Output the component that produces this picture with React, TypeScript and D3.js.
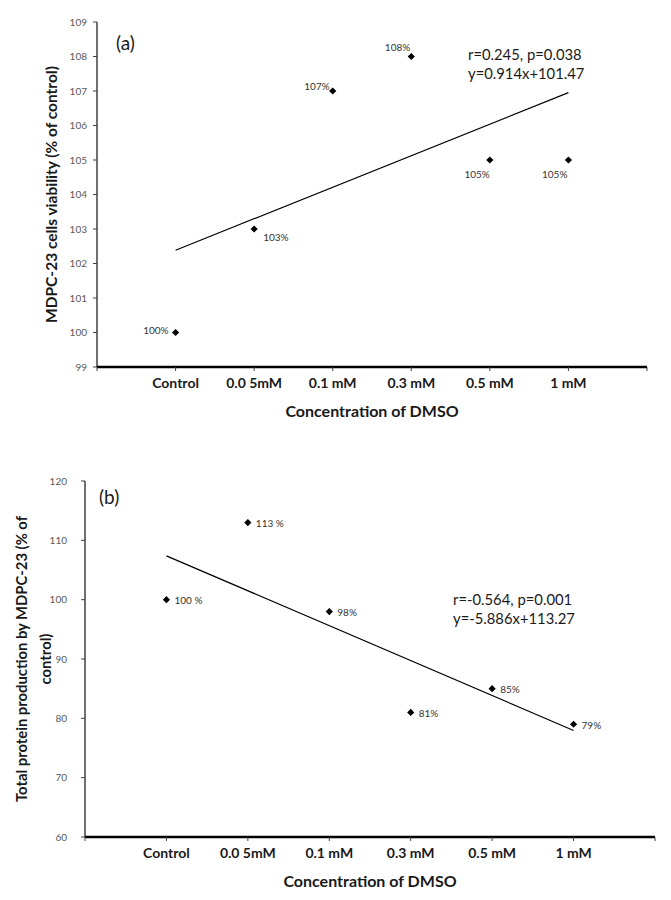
import React from 'react';
import * as d3 from 'd3';

// Data
const categories = ['Control', '0.0 5mM', '0.1 mM', '0.3 mM', '0.5 mM', '1 mM'];
const categoryX = [1, 2, 3, 4, 5, 6];

const viability = [100, 103, 107, 108, 105, 105];
const viabilityLabels = ['100%', '103%', '107%', '108%', '105%', '105%'];
const viabilityTicks = [99, 100, 101, 102, 103, 104, 105, 106, 107, 108, 109];
const viabilityFit = [0.914, 101.47]; // slope, intercept
const viabilityStats = ['r=0.245, p=0.038', 'y=0.914x+101.47'];

const protein = [100, 113, 98, 81, 85, 79];
const proteinLabels = ['100 %', '113 %', '98%', '81%', '85%', '79%'];
const proteinTicks = [60, 70, 80, 90, 100, 110, 120];
const proteinFit = [-5.886, 113.27];
const proteinStats = ['r=-0.564, p=0.001', 'y=-5.886x+113.27'];

const FONT = 'Lato, "Open Sans", sans-serif';

interface LabelPos {
  dx: number;
  dy: number;
  anchor: 'start' | 'end' | 'middle';
}

interface PanelProps {
  tag: string;
  tagPos: [number, number];
  values: number[];
  labels: string[];
  labelPos: LabelPos[];
  ticks: number[];
  fit: number[];
  stats: string[];
  statsPos: [number, number];
  xRange: [number, number];
  yRange: [number, number];
  yTitle: string[];
  yTitleX: number[];
  yTitleSize: number;
  tickGap: number;
}

const diamond = d3.symbol(d3.symbolSquare, 26)() || '';

const Panel: React.FC<PanelProps> = ({
  tag, tagPos, values, labels, labelPos, ticks, fit, stats, statsPos,
  xRange, yRange, yTitle, yTitleX, yTitleSize, tickGap
}) => {
  const x = d3.scaleLinear().domain([0, 7]).range(xRange);
  const y = d3.scaleLinear()
    .domain([d3.min(ticks) as number, d3.max(ticks) as number])
    .range([yRange[1], yRange[0]]);

  const fitLine = d3.line<number>()
    .x(d => x(d))
    .y(d => y(fit[0] * d + fit[1]));

  const yMid = (yRange[0] + yRange[1]) / 2;
  const xMid = (xRange[0] + xRange[1]) / 2;
  const base = yRange[1];

  return (
    <g fontFamily={FONT}>
      {/* y axis */}
      <line x1={xRange[0]} x2={xRange[0]} y1={yRange[0]} y2={base} stroke="#404040" strokeWidth={1.5} />
      {ticks.map(t => (
        <g key={`yt-${t}`} transform={`translate(${xRange[0]},${y(t)})`}>
          <line x1={-4} x2={0} stroke="#404040" />
          <text x={-tickGap} dy="0.35em" textAnchor="end" fontSize={10} fill="#595959">{t}</text>
        </g>
      ))}

      {/* x axis */}
      <line x1={xRange[0]} x2={xRange[1]} y1={base} y2={base} stroke="#000" strokeWidth={2.5} />
      {[0, ...categoryX, 7].map(v => (
        <line key={`xt-${v}`} x1={x(v)} x2={x(v)} y1={base} y2={base + 4} stroke="#404040" />
      ))}
      {categories.map((c, i) => (
        <text key={c} x={x(categoryX[i])} y={base + 21} textAnchor="middle"
          fontSize={14} fontWeight="bold" fill="#1a1a1a">{c}</text>
      ))}
      <text x={xMid} y={base + 50} textAnchor="middle" fontSize={16} fontWeight="bold" fill="#1a1a1a">
        Concentration of DMSO
      </text>

      {/* y title */}
      {yTitle.map((line, i) => (
        <text key={line} transform={`translate(${yTitleX[i]},${yMid}) rotate(-90)`}
          textAnchor="middle" dy="0.35em" fontSize={yTitleSize} fontWeight="bold" fill="#1a1a1a">{line}</text>
      ))}

      {/* trend line */}
      <path d={fitLine([categoryX[0], categoryX[categoryX.length - 1]]) || ''}
        fill="none" stroke="#000" strokeWidth={1.2} />

      {/* points */}
      {values.map((v, i) => (
        <g key={`p-${i}`} transform={`translate(${x(categoryX[i])},${y(v)})`}>
          <path d={diamond} transform="rotate(45)" fill="#000" />
          <text x={labelPos[i].dx} y={labelPos[i].dy} dy="0.35em" textAnchor={labelPos[i].anchor}
            fontSize={10} fill="#333">{labels[i]}</text>
        </g>
      ))}

      {/* stats */}
      {stats.map((s, i) => (
        <text key={s} x={statsPos[0]} y={statsPos[1] + i * 19} fontSize={14.8} fill="#1a1a1a">{s}</text>
      ))}

      <text x={tagPos[0]} y={tagPos[1]} fontSize={19} fill="#1a1a1a">{tag}</text>
    </g>
  );
};

const App: React.FC = () => {
  const posA: LabelPos[] = [
    { dx: -7, dy: -2, anchor: 'end' },
    { dx: 9, dy: 8, anchor: 'start' },
    { dx: -3, dy: -5, anchor: 'end' },
    { dx: -1, dy: -9, anchor: 'end' },
    { dx: 0, dy: 14, anchor: 'end' },
    { dx: -1, dy: 14, anchor: 'end' },
  ];
  const posB: LabelPos[] = categoryX.map(() => ({ dx: 8, dy: 1, anchor: 'start' as const }));

  return (
    <svg width={671} height={900} style={{ position: 'absolute', left: 0, top: 0, background: '#fff' }}>
      <Panel
        tag="(a)" tagPos={[116, 50]}
        values={viability} labels={viabilityLabels} labelPos={posA}
        ticks={viabilityTicks} fit={viabilityFit}
        stats={viabilityStats} statsPos={[468, 60]}
        xRange={[97, 647]} yRange={[22, 367]}
        yTitle={['MDPC-23 cells viability (% of control)']} yTitleX={[52]} yTitleSize={15.5}
        tickGap={10}
      />
      <Panel
        tag="(b)" tagPos={[99, 504]}
        values={protein} labels={proteinLabels} labelPos={posB}
        ticks={proteinTicks} fit={proteinFit}
        stats={proteinStats} statsPos={[453, 605]}
        xRange={[85, 655]} yRange={[481, 837]}
        yTitle={['Total protein production by MDPC-23 (% of', 'control)']} yTitleX={[22, 46]} yTitleSize={14.8}
        tickGap={18}
      />
    </svg>
  );
};

export default App;
